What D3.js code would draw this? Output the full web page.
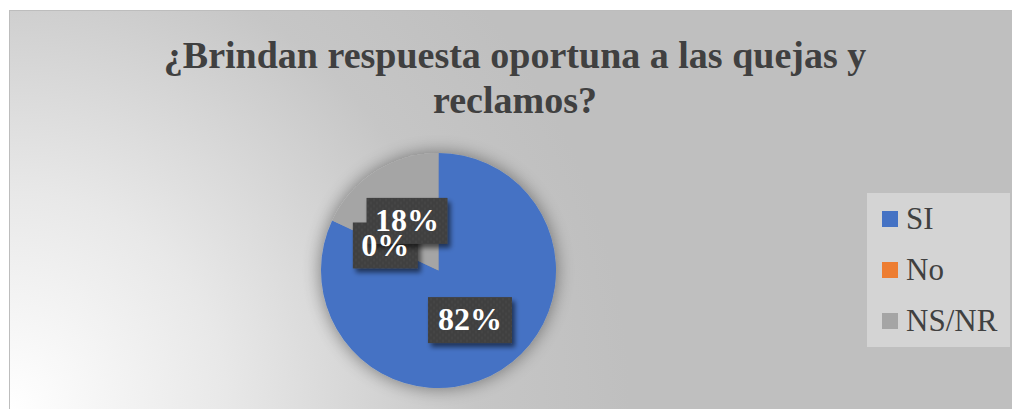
<!DOCTYPE html>
<html><head><meta charset="utf-8">
<script src="https://cdn.jsdelivr.net/npm/d3@7"></script>
<style>html,body{margin:0;padding:0;background:#fff;}svg{display:block;}</style>
</head><body>
<script>
const title = ["¿Brindan respuesta oportuna a las quejas y", "reclamos?"];
const categories = ["SI", "No", "NS/NR"];
const values = [82, 0, 18];
const labels = ["82%", "0%", "18%"];
const colors = ["#4472C4", "#ED7D31", "#A5A5A5"];

const W = 1012, H = 409;
const FONT = "Liberation Serif, Times New Roman, serif";
const svg = d3.select("body").append("svg").attr("width", W).attr("height", H);
const defs = svg.append("defs");

const bg = defs.append("radialGradient").attr("id", "bg").attr("gradientUnits", "userSpaceOnUse")
  .attr("cx", 10).attr("cy", 409).attr("r", 620);
bg.append("stop").attr("offset", "0").attr("stop-color", "#ffffff");
bg.append("stop").attr("offset", "0.35").attr("stop-color", "#e8e8e8");
bg.append("stop").attr("offset", "0.75").attr("stop-color", "#c6c6c6");
bg.append("stop").attr("offset", "1").attr("stop-color", "#bfbfbf");

const sh = defs.append("filter").attr("id", "pieShadow").attr("x", "-30%").attr("y", "-30%").attr("width", "160%").attr("height", "160%");
sh.append("feGaussianBlur").attr("in", "SourceAlpha").attr("stdDeviation", 9).attr("result", "b");
sh.append("feComponentTransfer").attr("in", "b").attr("result", "o2")
  .append("feFuncA").attr("type", "linear").attr("slope", 0.45);
const m1 = sh.append("feMerge");
m1.append("feMergeNode").attr("in", "o2");
m1.append("feMergeNode").attr("in", "SourceGraphic");

const ls = defs.append("filter").attr("id", "lblShadow").attr("x", "-20%").attr("y", "-20%").attr("width", "150%").attr("height", "160%");
ls.append("feGaussianBlur").attr("in", "SourceAlpha").attr("stdDeviation", 2.5).attr("result", "b");
ls.append("feOffset").attr("in", "b").attr("dx", 3).attr("dy", 4).attr("result", "o");
ls.append("feComponentTransfer").attr("in", "o").attr("result", "o2")
  .append("feFuncA").attr("type", "linear").attr("slope", 0.55);
const m2 = ls.append("feMerge");
m2.append("feMergeNode").attr("in", "o2");
m2.append("feMergeNode").attr("in", "SourceGraphic");

const pat = defs.append("pattern").attr("id", "dots").attr("patternUnits", "userSpaceOnUse").attr("width", 6).attr("height", 6);
pat.append("rect").attr("width", 6).attr("height", 6).attr("fill", "#404040");
pat.append("circle").attr("cx", 1.5).attr("cy", 1.5).attr("r", 0.9).attr("fill", "#4b4b4b");
pat.append("circle").attr("cx", 4.5).attr("cy", 4.5).attr("r", 0.9).attr("fill", "#4b4b4b");

// chart area
svg.append("rect").attr("x", 9.5).attr("y", 10.5).attr("width", W - 9).attr("height", H - 10)
  .attr("fill", "url(#bg)").attr("stroke", "#bdbdbd").attr("stroke-width", 1);

// title
svg.append("g").selectAll("text").data(title).join("text")
  .attr("x", 515).attr("y", (d, i) => 68 + i * 45)
  .attr("text-anchor", "middle")
  .attr("font-family", FONT)
  .attr("font-weight", "bold").attr("font-size", 38).attr("fill", "#404040")
  .text(d => d);

// pie
const cx = 438.5, cy = 270.5, r = 117.5;
const pie = d3.pie().sort(null).value(d => d)(values);
const arc = d3.arc().innerRadius(0).outerRadius(r);
const g = svg.append("g").attr("transform", `translate(${cx},${cy})`);
g.append("g").attr("filter", "url(#pieShadow)").selectAll("path").data(pie).join("path")
  .attr("d", arc).attr("fill", (d, i) => colors[i]);

// labels
const lblW = [84, 65, 81], lblH = 46;
const order = [0, 1, 2];
const boxes = g.append("g");
const texts = g.append("g");
order.forEach(i => {
  const [x, y] = arc.centroid(pie[i]);
  boxes.append("rect").attr("x", x - lblW[i] / 2).attr("y", y - lblH / 2).attr("width", lblW[i]).attr("height", lblH)
    .attr("fill", "url(#dots)").attr("filter", "url(#lblShadow)");
  texts.append("text").attr("x", x).attr("y", y + 10)
    .attr("text-anchor", "middle")
    .attr("font-family", FONT)
    .attr("font-weight", "bold").attr("font-size", 32).attr("fill", "#ffffff")
    .text(labels[i]);
});

// legend
const leg = svg.append("g");
leg.append("rect").attr("x", 867).attr("y", 193).attr("width", 143).attr("height", 154).attr("fill", "#d4d4d4");
const li = leg.selectAll("g.item").data(categories).join("g").attr("class", "item")
  .attr("transform", (d, i) => `translate(882,${219 + i * 51})`);
li.append("rect").attr("x", 0).attr("y", -8).attr("width", 16).attr("height", 16).attr("fill", (d, i) => colors[i]);
li.append("text").attr("x", 24).attr("y", 10)
  .attr("font-family", FONT)
  .attr("font-size", 31).attr("fill", "#404040").text(d => d);
</script>
</body></html>
